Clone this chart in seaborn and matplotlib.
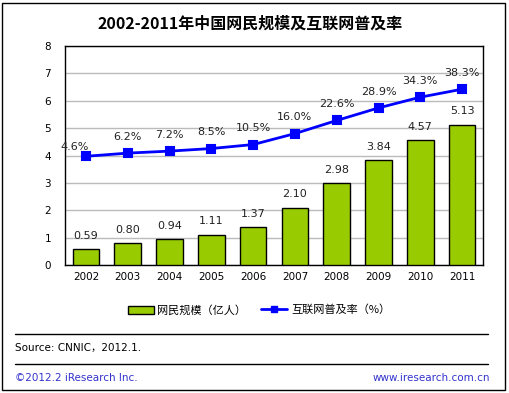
import matplotlib
matplotlib.use("Agg")
import matplotlib.pyplot as plt
import seaborn as sns
import pandas as pd
import numpy as np
from matplotlib.patches import Rectangle
from matplotlib.lines import Line2D

years = ["2002", "2003", "2004", "2005", "2006", "2007", "2008", "2009", "2010", "2011"]
users = [0.59, 0.80, 0.94, 1.11, 1.37, 2.10, 2.98, 3.84, 4.57, 5.13]
rate = [4.6, 6.2, 7.2, 8.5, 10.5, 16.0, 22.6, 28.9, 34.3, 38.3]
title = "2002-2011年中国网民规模及互联网普及率"
bar_label = "网民规模（亿人）"
line_label = "互联网普及率（%）"
source = "Source: CNNIC，2012.1."
copyright_txt = "©2012.2 iResearch Inc."
website = "www.iresearch.com.cn"

sns.set_theme(style="white")
plt.rcParams['font.family'] = ['DejaVu Sans', 'Noto Sans CJK SC']
cjk = ['Noto Sans CJK SC', 'DejaVu Sans']

df = pd.DataFrame({"year": years, "users": users, "rate": rate})

W, H = 510, 393
fig = plt.figure(figsize=(W / 100, H / 100), dpi=100)
ax = fig.add_axes([65 / W, 1 - 265 / H, 418 / W, 219 / H])

sns.barplot(data=df, x="year", y="users", color="#99CC00", saturation=1,
            edgecolor="black", linewidth=1, width=0.64, ax=ax, zorder=3)
ax.set_ylim(0, 8)
ax.set_yticks(range(0, 9))
ax.yaxis.grid(True, color="#BBBBBB", linewidth=1, zorder=0)
ax.set_axisbelow(True)
for s in ax.spines.values():
    s.set_color("black")
    s.set_linewidth(1)
ax.set_xlabel("")
ax.set_ylabel("")
ax.tick_params(axis="both", length=0, labelsize=7.5, colors="black")
ax.tick_params(axis="y", pad=10)
ax.tick_params(axis="x", pad=5)
ax.set_xlim(-0.5, len(years) - 0.5)
for i, v in enumerate(users):
    ax.annotate(f"{v:.2f}", (i, v), xytext=(0, 6), textcoords="offset points",
                ha="center", va="bottom", fontsize=8, color="#222222")

ax2 = ax.twinx()
sns.pointplot(data=df, x="year", y="rate", color="#0000FF", markers="s",
              markersize=6, linewidth=2, ax=ax2)
ax2.set_ylim(-50, 60)
ax2.set_yticks([])
ax2.set_ylabel("")
ax2.set_xlim(-0.5, len(years) - 0.5)
for s in ax2.spines.values():
    s.set_visible(False)
for i, v in enumerate(rate):
    off = (-8, 3) if i == 0 else (0, 8)
    ax2.annotate(f"{v:.1f}%", (i, v), xytext=off, textcoords="offset points",
                 ha="center", va="bottom", fontsize=8, color="#222222",
                 annotation_clip=False)

# title
fig.text(0.5 - 5 / W, 1 - 24 / H, title, ha="center", va="center",
         fontsize=11.5, fontweight="bold", family=cjk, color="black")

# legend
fig.patches.append(Rectangle((128 / W, 1 - 314 / H), 26 / W, 8 / H,
                             transform=fig.transFigure, facecolor="#99CC00",
                             edgecolor="black", linewidth=1))
fig.text(157 / W, 1 - 310 / H, bar_label, ha="left", va="center",
         fontsize=8, family=cjk, color="black")
fig.lines.append(Line2D([261 / W, 287 / W], [1 - 309 / H, 1 - 309 / H],
                        transform=fig.transFigure, color="#0000FF", linewidth=2))
fig.lines.append(Line2D([274 / W], [1 - 309 / H], transform=fig.transFigure,
                        color="#0000FF", marker="s", markersize=5, linestyle="none"))
fig.text(291 / W, 1 - 310 / H, line_label, ha="left", va="center",
         fontsize=8, family=cjk, color="black")

# separators
for y in (334, 364):
    fig.lines.append(Line2D([15 / W, 488 / W], [1 - y / H, 1 - y / H],
                            transform=fig.transFigure, color="black", linewidth=1))
fig.text(15 / W, 1 - 348 / H, source, ha="left", va="center", fontsize=7.5,
         family=['DejaVu Sans', 'Noto Sans CJK SC'], color="black")
fig.text(15 / W, 1 - 378 / H, copyright_txt, ha="left", va="center", fontsize=7.5,
         color="#3333CC")
fig.text(490 / W, 1 - 378 / H, website, ha="right", va="center", fontsize=7.5,
         color="#3333CC")

# outer border
fig.patches.append(Rectangle((2.5 / W, 1 - 389.5 / H), 503 / W, 387 / H,
                             transform=fig.transFigure, facecolor="none",
                             edgecolor="black", linewidth=1))

fig.savefig("out.png", dpi=100)
